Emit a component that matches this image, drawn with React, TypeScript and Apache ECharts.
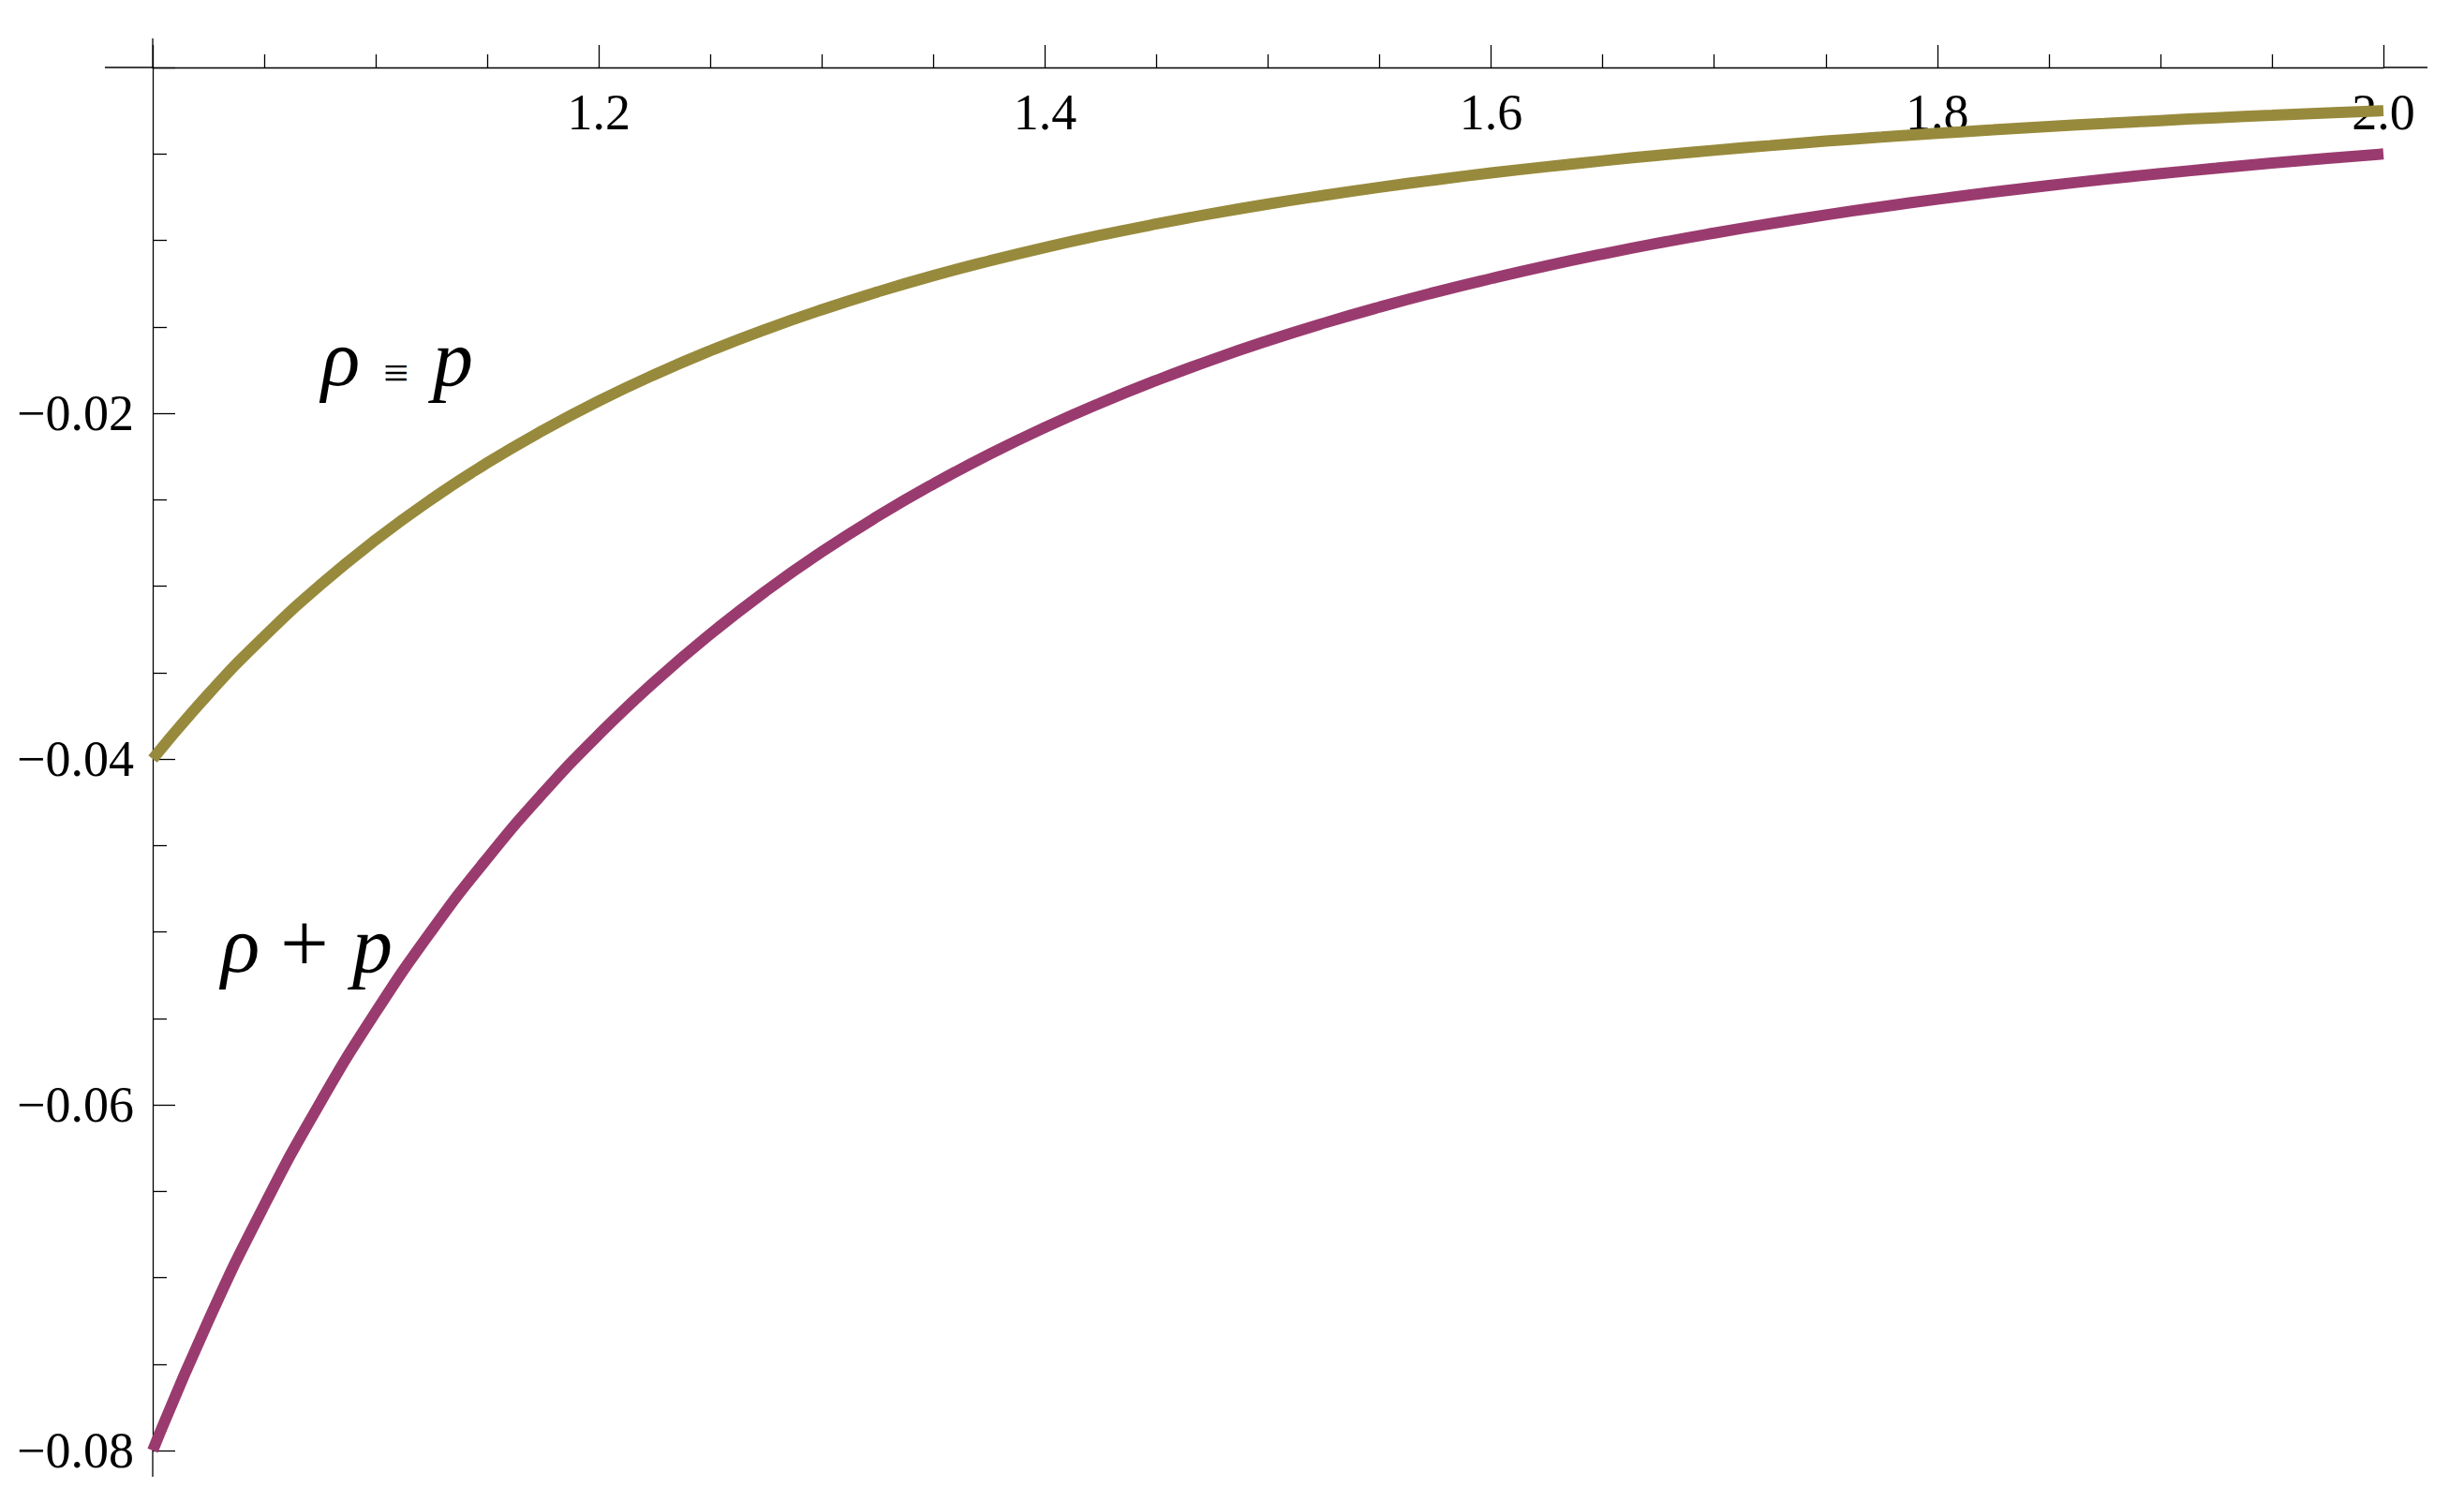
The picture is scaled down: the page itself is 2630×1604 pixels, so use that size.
import React, { useEffect, useRef } from "react";
import * as echarts from "echarts";

// x values, read every 0.025
const xValues = [
  1.0, 1.025, 1.05, 1.075, 1.1, 1.125, 1.15, 1.175, 1.2, 1.225, 1.25, 1.275, 1.3, 1.325, 1.35, 1.375,
  1.4, 1.425, 1.45, 1.475, 1.5, 1.525, 1.55, 1.575, 1.6, 1.625, 1.65, 1.675, 1.7, 1.725, 1.75, 1.775,
  1.8, 1.825, 1.85, 1.875, 1.9, 1.925, 1.95, 1.975, 2.0,
];

// olive curve, labelled "ρ ≡ p"
const rhoEquivP = [
  -0.04, -0.03624, -0.03291, -0.02995, -0.02732, -0.02497, -0.02287, -0.02099, -0.01929, -0.01776,
  -0.01638, -0.01514, -0.01401, -0.01298, -0.01204, -0.01119, -0.01041, -0.0097, -0.00905, -0.00845,
  -0.0079, -0.0074, -0.00693, -0.0065, -0.0061, -0.00574, -0.0054, -0.00508, -0.00479, -0.00452,
  -0.00426, -0.00403, -0.00381, -0.00361, -0.00341, -0.00324, -0.00307, -0.00291, -0.00277, -0.00263,
  -0.0025,
];

// magenta curve, labelled "ρ + p"
const rhoPlusP = [
  -0.08, -0.07248, -0.06582, -0.0599, -0.05464, -0.04994, -0.04574, -0.04197, -0.03858, -0.03553,
  -0.03277, -0.03027, -0.02801, -0.02596, -0.02409, -0.02238, -0.02082, -0.0194, -0.0181, -0.0169,
  -0.0158, -0.01479, -0.01386, -0.013, -0.01221, -0.01147, -0.01079, -0.01016, -0.00958, -0.00904,
  -0.00853, -0.00806, -0.00762, -0.00721, -0.00683, -0.00647, -0.00614, -0.00583, -0.00553, -0.00526,
  -0.005,
];

const xTickLabels = ["1.2", "1.4", "1.6", "1.8", "2.0"];
const yTickLabels = ["−0.08", "−0.06", "−0.04", "−0.02"];

const FONT = "Liberation Serif";
const OLIVE = "#988A3C";
const MAGENTA = "#9A3B6F";

const GRID_LEFT = 163;
const GRID_TOP = 72;
const GRID_W = 2381;
const GRID_H = 1476;

function glyph(text: string, x: number, y: number, size: number, italic: boolean) {
  return {
    type: "text",
    x,
    y,
    style: {
      text,
      fontFamily: FONT,
      fontSize: size,
      fontStyle: italic ? "italic" : "normal",
      fill: "#000",
      textAlign: "left",
      textVerticalAlign: "middle",
    },
  };
}

export default function App() {
  const ref = useRef<HTMLDivElement>(null);

  useEffect(() => {
    if (!ref.current) return;
    const chart = echarts.init(ref.current, undefined, { renderer: "svg" });
    const axisColor = "#000";
    const lw = 1.3;

    const xFmt = (v: number) => {
      const s = v.toFixed(1);
      return xTickLabels.indexOf(s) >= 0 ? s : "";
    };
    const yFmt = (v: number) => {
      const s = "−" + Math.abs(v).toFixed(2);
      return yTickLabels.indexOf(s) >= 0 ? s : "";
    };

    const right = GRID_LEFT + GRID_W;
    const bottom = GRID_TOP + GRID_H;

    chart.setOption({
      animation: false,
      backgroundColor: "#fff",
      grid: { left: GRID_LEFT, top: GRID_TOP, width: GRID_W, height: GRID_H, containLabel: false },
      xAxis: {
        type: "value",
        position: "top",
        min: 1,
        max: 2,
        interval: 0.2,
        axisLine: { show: true, onZero: false, lineStyle: { color: axisColor, width: lw } },
        axisTick: { show: true, inside: false, length: 24, lineStyle: { color: axisColor, width: lw } },
        minorTick: { show: true, splitNumber: 4, length: 14, lineStyle: { color: axisColor, width: lw } },
        axisLabel: {
          inside: true,
          margin: 21,
          formatter: xFmt,
          fontFamily: FONT,
          fontSize: 54,
          color: "#000",
        },
        splitLine: { show: false },
        minorSplitLine: { show: false },
      },
      yAxis: {
        type: "value",
        min: -0.08,
        max: 0,
        interval: 0.02,
        axisLine: { show: true, onZero: false, lineStyle: { color: axisColor, width: lw } },
        axisTick: { show: true, inside: true, length: 24, lineStyle: { color: axisColor, width: lw } },
        minorTick: { show: true, splitNumber: 4, length: 15, lineStyle: { color: axisColor, width: lw } },
        axisLabel: {
          margin: 20,
          formatter: yFmt,
          fontFamily: FONT,
          fontSize: 54,
          color: "#000",
        },
        splitLine: { show: false },
        minorSplitLine: { show: false },
      },
      series: [
        {
          name: "ρ + p",
          type: "line",
          data: xValues.map((x, i) => [x, rhoPlusP[i]]),
          showSymbol: false,
          symbol: "none",
          smooth: 0.5,
          clip: false,
          lineStyle: { color: MAGENTA, width: 12, cap: "butt" },
        },
        {
          name: "ρ ≡ p",
          type: "line",
          data: xValues.map((x, i) => [x, rhoEquivP[i]]),
          showSymbol: false,
          symbol: "none",
          smooth: 0.5,
          clip: false,
          lineStyle: { color: OLIVE, width: 12, cap: "butt" },
        },
      ],
      graphic: [
        // axis line extensions (axes extend a little past the plot range)
        { type: "line", shape: { x1: 112, y1: GRID_TOP, x2: GRID_LEFT, y2: GRID_TOP }, style: { stroke: axisColor, lineWidth: lw } },
        { type: "line", shape: { x1: right, y1: GRID_TOP, x2: 2591, y2: GRID_TOP }, style: { stroke: axisColor, lineWidth: lw } },
        { type: "line", shape: { x1: GRID_LEFT, y1: 41, x2: GRID_LEFT, y2: GRID_TOP }, style: { stroke: axisColor, lineWidth: lw } },
        { type: "line", shape: { x1: GRID_LEFT, y1: bottom, x2: GRID_LEFT, y2: 1576 }, style: { stroke: axisColor, lineWidth: lw } },
        // label "ρ ≡ p"
        glyph("ρ", 343, 382, 86, true),
        glyph("≡", 409, 397, 48, false),
        glyph("p", 462, 382, 86, true),
        // label "ρ + p"
        glyph("ρ", 236, 1008, 86, true),
        glyph("+", 299, 1006, 92, false),
        glyph("p", 376, 1008, 86, true),
      ],
    });

    return () => chart.dispose();
  }, []);

  return (
    <div
      ref={ref}
      style={{ position: "fixed", left: 0, top: 0, width: 2630, height: 1604, background: "#fff" }}
    />
  );
}
